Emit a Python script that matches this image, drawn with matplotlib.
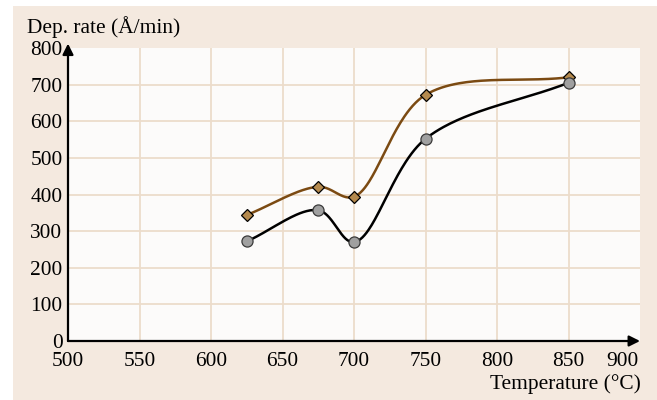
import matplotlib
matplotlib.use("Agg")
import matplotlib.pyplot as plt
import numpy as np

# data
temps = [625, 675, 700, 750, 850]
rate_circles = [272, 357, 270, 552, 705]
rate_diamonds = [344, 421, 394, 672, 720]

x_ticks = [500, 550, 600, 650, 700, 750, 800, 850]
y_ticks = [0, 100, 200, 300, 400, 500, 600, 700, 800]

BEIGE = '#f4e9df'
GRID = '#ecdccb'
BROWN = '#7b4a12'
FS = 15.4


def smooth_curve(xs, ys, sx=1.43, sy=0.367, n=60, alpha=0.5):
    # centripetal Catmull-Rom through the points, in pixel-like units
    p = np.column_stack([np.asarray(xs, float) * sx, np.asarray(ys, float) * sy])
    p = np.vstack([2 * p[0] - p[1], p, 2 * p[-1] - p[-2]])
    out = []
    for i in range(1, len(p) - 2):
        P0, P1, P2, P3 = p[i - 1], p[i], p[i + 1], p[i + 2]
        t0 = 0.0
        t1 = t0 + np.linalg.norm(P1 - P0) ** alpha
        t2 = t1 + np.linalg.norm(P2 - P1) ** alpha
        t3 = t2 + np.linalg.norm(P3 - P2) ** alpha
        t = np.linspace(t1, t2, n)[:, None]
        A1 = (t1 - t) / (t1 - t0) * P0 + (t - t0) / (t1 - t0) * P1
        A2 = (t2 - t) / (t2 - t1) * P1 + (t - t1) / (t2 - t1) * P2
        A3 = (t3 - t) / (t3 - t2) * P2 + (t - t2) / (t3 - t2) * P3
        B1 = (t2 - t) / (t2 - t0) * A1 + (t - t0) / (t2 - t0) * A2
        B2 = (t3 - t) / (t3 - t1) * A2 + (t - t1) / (t3 - t1) * A3
        out.append((t2 - t) / (t2 - t1) * B1 + (t - t1) / (t2 - t1) * B2)
    c = np.vstack(out)
    return c[:, 0] / sx, c[:, 1] / sy


plt.rcParams['font.family'] = ['Liberation Serif', 'DejaVu Serif']

fig = plt.figure(figsize=(6.57, 4), dpi=100)
fig.patch.set_facecolor('white')
bg = fig.add_axes([13 / 657, 0, 644 / 657, 394 / 400], zorder=-5)
bg.set_facecolor(BEIGE)
bg.set_xticks([])
bg.set_yticks([])
for s in bg.spines.values():
    s.set_visible(False)

ax = fig.add_axes([68 / 657, 59 / 400, 572 / 657, 293 / 400])
ax.set_facecolor('#fcfbfa')
ax.set_xlim(500, 900)
ax.set_ylim(0, 800)

for xv in x_ticks[1:]:
    ax.axvline(xv, color=GRID, lw=1.3, zorder=1)
for yv in y_ticks[1:-1]:
    ax.axhline(yv, color=GRID, lw=1.3, zorder=1)

for s in ax.spines.values():
    s.set_visible(False)
ax.set_xticks(x_ticks)
ax.set_yticks(y_ticks)
ax.tick_params(length=0, labelsize=FS)
ax.tick_params(axis='x', pad=8)
ax.tick_params(axis='y', pad=4)
# last x label sits left of the arrow head
ax.annotate('900', xy=(888, 0), xytext=(0, -8), textcoords='offset points',
            ha='center', va='top', fontsize=FS, annotation_clip=False)

# axes with arrows
ax.annotate('', xy=(500, 812), xytext=(500, 0), annotation_clip=False,
            arrowprops=dict(arrowstyle='-|>', color='black', lw=1.6, mutation_scale=16, shrinkA=0, shrinkB=0))
ax.annotate('', xy=(900, 0), xytext=(500, 0), annotation_clip=False,
            arrowprops=dict(arrowstyle='-|>', color='black', lw=1.6, mutation_scale=16, shrinkA=0, shrinkB=0))

cx, cy = smooth_curve(temps, rate_diamonds)
ax.plot(cx, cy, color=BROWN, lw=1.8, zorder=3)
ax.plot(temps, rate_diamonds, linestyle='none', marker='D', markersize=6.5,
        markerfacecolor='#b58a4e', markeredgecolor='black', markeredgewidth=0.9, zorder=4)

cx, cy = smooth_curve(temps, rate_circles)
ax.plot(cx, cy, color='black', lw=1.8, zorder=3)
ax.plot(temps, rate_circles, linestyle='none', marker='o', markersize=8,
        markerfacecolor='#a0a0a0', markeredgecolor='#3a3a3a', markeredgewidth=0.9, zorder=4)

fig.text(27 / 657, 1 - 27 / 400, 'Dep. rate (Å/min)', ha='left', va='center', fontsize=FS)
fig.text(641 / 657, 1 - 384 / 400, 'Temperature (°C)', ha='right', va='center', fontsize=FS)

fig.savefig('out.png', dpi=100, facecolor=fig.get_facecolor())
